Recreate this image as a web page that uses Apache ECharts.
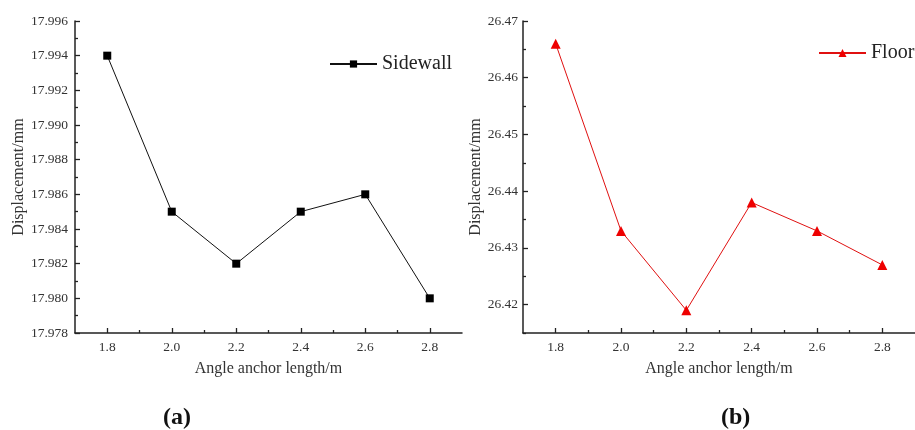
<!DOCTYPE html>
<html>
<head>
<meta charset="utf-8">
<script src="https://cdn.jsdelivr.net/npm/echarts@6/dist/echarts.min.js"></script>
<style>
html, body { margin: 0; padding: 0; background: #fff; }
#main { width: 915px; height: 430px; }
</style>
</head>
<body>
<div id="main"></div>
<script>
// anchor length (m) and displacement (mm)
var lengths = [1.8, 2.0, 2.2, 2.4, 2.6, 2.8];
var sidewall = [17.994, 17.985, 17.982, 17.985, 17.986, 17.980];
var floor = [26.466, 26.433, 26.419, 26.438, 26.433, 26.427];

// tick labels
var xTicks = [1.8, 2.0, 2.2, 2.4, 2.6, 2.8];
var xMinorTicks = [1.9, 2.1, 2.3, 2.5, 2.7];
var sideTicks = [17.978, 17.980, 17.982, 17.984, 17.986, 17.988, 17.990, 17.992, 17.994, 17.996];
var sideMinorTicks = [17.979, 17.981, 17.983, 17.985, 17.987, 17.989, 17.991, 17.993, 17.995];
var floorTicks = [26.42, 26.43, 26.44, 26.45, 26.46, 26.47];
var floorMinorTicks = [26.415, 26.425, 26.435, 26.445, 26.455, 26.465];

var serif = 'Liberation Serif';
var axisColor = '#222';

function pairs(ys) {
    return lengths.map(function (x, i) { return [x, ys[i]]; });
}

// main axis: line and labels
function mainAxis(grid, min, max, ticks, digits, isY) {
    return {
        type: 'value',
        gridIndex: grid,
        position: isY ? 'left' : 'bottom',
        min: min,
        max: max,
        axisLine: { show: true, lineStyle: { color: axisColor, width: 1.5 } },
        axisTick: { show: false },
        axisLabel: { customValues: ticks, margin: 7,
                     fontFamily: serif, fontSize: 13.5, color: '#333',
                     formatter: function (v) { return v.toFixed(digits); } },
        splitLine: { show: false },
        name: isY ? 'Displacement/mm' : 'Angle anchor length/m',
        nameLocation: 'middle',
        nameGap: isY ? 42 : 28,
        nameTextStyle: { fontFamily: serif, fontSize: 16, color: '#333' }
    };
}

// overlay axis that only draws ticks
function tickAxis(grid, min, max, ticks, len, isY) {
    return {
        type: 'value',
        gridIndex: grid,
        position: isY ? 'left' : 'bottom',
        offset: 0,
        min: min,
        max: max,
        axisLine: { show: false },
        axisTick: { show: true, inside: true, length: len, customValues: ticks,
                    lineStyle: { color: axisColor, width: 1.3 } },
        axisLabel: { show: false },
        splitLine: { show: false }
    };
}

var yr = mainAxis(1, 26.415, 26.47, floorTicks, 2, true);
yr.nameGap = 39;
yr.axisLabel.margin = 5;

var labelRich = {
    p: { fontFamily: serif, fontSize: 24, color: '#111' },
    b: { fontFamily: serif, fontWeight: 'bold', fontSize: 24, color: '#111' }
};

var chart = echarts.init(document.getElementById('main'));
chart.setOption({
    animation: false,
    backgroundColor: '#fff',
    title: [
        { text: '{p|(}{b|a}{p|)}', left: 163, top: 406, padding: 0,
          textStyle: { rich: labelRich } },
        { text: '{p|(}{b|b}{p|)}', left: 721, top: 406, padding: 0,
          textStyle: { rich: labelRich } }
    ],
    legend: [
        { data: ['Sidewall'], left: 329, top: 54, padding: 0, itemWidth: 47, itemHeight: 9,
          textStyle: { fontFamily: serif, fontSize: 20, color: '#222' } },
        { data: ['Floor'], left: 818, top: 43, padding: 0, itemWidth: 47, itemHeight: 10,
          textStyle: { fontFamily: serif, fontSize: 20, color: '#222' } }
    ],
    grid: [
        { left: 75, top: 21, width: 387, height: 312 },
        { left: 523, top: 21, width: 392, height: 312 }
    ],
    xAxis: [
        mainAxis(0, 1.7, 2.9, xTicks, 1, false),
        tickAxis(0, 1.7, 2.9, xTicks, 5, false),
        tickAxis(0, 1.7, 2.9, xMinorTicks, 3, false),
        mainAxis(1, 1.7, 2.9, xTicks, 1, false),
        tickAxis(1, 1.7, 2.9, xTicks, 5, false),
        tickAxis(1, 1.7, 2.9, xMinorTicks, 3, false)
    ],
    yAxis: [
        mainAxis(0, 17.978, 17.996, sideTicks, 3, true),
        tickAxis(0, 17.978, 17.996, sideTicks, 5, true),
        tickAxis(0, 17.978, 17.996, sideMinorTicks, 3, true),
        yr,
        tickAxis(1, 26.415, 26.47, floorTicks, 5, true),
        tickAxis(1, 26.415, 26.47, floorMinorTicks, 3, true)
    ],
    series: [
        { name: 'Sidewall', type: 'line', xAxisIndex: 0, yAxisIndex: 0,
          data: pairs(sidewall), symbol: 'rect', symbolSize: 8,
          lineStyle: { color: '#111', width: 1 }, itemStyle: { color: '#000' } },
        { name: 'Floor', type: 'line', xAxisIndex: 3, yAxisIndex: 3,
          data: pairs(floor), symbol: 'triangle', symbolSize: 10,
          lineStyle: { color: '#e01010', width: 1 }, itemStyle: { color: '#ee0000' } }
    ]
});
</script>
</body>
</html>
